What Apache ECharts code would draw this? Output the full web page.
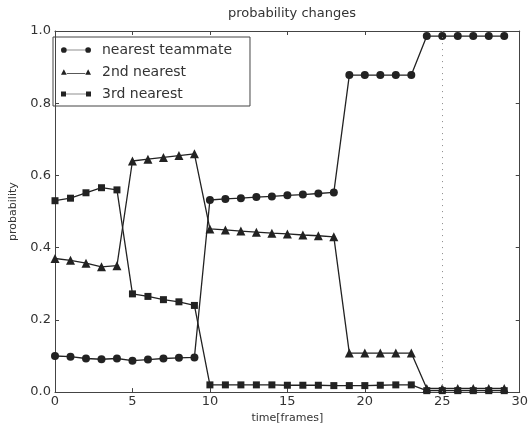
<!DOCTYPE html>
<html lang="en">
<head>
    <meta charset="UTF-8">
    <script type="text/javascript" src="https://cdn.jsdelivr.net/npm/echarts@6/dist/echarts.min.js"></script>
    <style>
        html, body { margin: 0; padding: 0; background: #fff; }
    </style>
</head>
<body>
    <div id="ProbChart" style="width: 531px;height: 429px;"></div>
</body>

<script>
    // time steps 0..29
    var frames = [0,1,2,3,4,5,6,7,8,9,10,11,12,13,14,15,16,17,18,19,20,21,22,23,24,25,26,27,28,29];
    var nearestTeammate = [0.100,0.098,0.093,0.091,0.093,0.087,0.090,0.093,0.095,0.096,
                           0.532,0.535,0.537,0.540,0.542,0.545,0.547,0.550,0.553,0.878,
                           0.878,0.878,0.878,0.878,0.986,0.986,0.986,0.986,0.986,0.986];
    var secondNearest = [0.370,0.365,0.357,0.347,0.350,0.640,0.645,0.650,0.655,0.660,
                         0.452,0.449,0.446,0.443,0.440,0.438,0.435,0.433,0.430,0.108,
                         0.108,0.108,0.108,0.108,0.010,0.010,0.010,0.010,0.010,0.010];
    var thirdNearest = [0.530,0.537,0.552,0.566,0.560,0.272,0.265,0.256,0.250,0.240,
                        0.020,0.020,0.020,0.020,0.020,0.019,0.019,0.019,0.018,0.018,
                        0.018,0.019,0.020,0.020,0.004,0.004,0.004,0.004,0.004,0.004];
    var xTicks = [0,5,10,15,20,25,30];
    var yTicks = [0.0,0.2,0.4,0.6,0.8,1.0];
    var markFrame = 25;

    function pairs(ys) {
        var out = [];
        for (var i = 0; i < frames.length; i++) out.push([frames[i], ys[i]]);
        return out;
    }

    // legend icons: marker - line - marker, like matplotlib
    var iconCircle = 'path://M1,5a4,4 0 1,0 8,0a4,4 0 1,0 -8,0Z M9,4.5H35V5.5H9Z M35,5a4,4 0 1,0 8,0a4,4 0 1,0 -8,0Z';
    var iconTri = 'path://M1,9L5,1L9,9Z M9,6.5H35V7.5H9Z M35,9L39,1L43,9Z';
    var iconRect = 'path://M1,1.5H8V8.5H1Z M8,4.5H36V5.5H8Z M36,1.5H43V8.5H36Z';

    var ink = '#222';
    var textCol = '#333';

    var chart = echarts.init(document.getElementById("ProbChart"));

    function axisBase(extra) {
        var a = {
            type: 'value',
            axisLine: { show: true, onZero: false, lineStyle: { color: '#444', width: 1 } },
            axisTick: { show: true, inside: true, length: 4, lineStyle: { color: '#444' } },
            splitLine: { show: false },
            axisLabel: { color: textCol, fontFamily: 'DejaVu Sans', fontSize: 13 }
        };
        for (var k in extra) a[k] = extra[k];
        return a;
    }

    var lineSeries = function (name, ys, symbol, size) {
        return {
            name: name,
            type: 'line',
            data: pairs(ys),
            symbol: symbol,
            symbolSize: size,
            showAllSymbol: true,
            itemStyle: { color: ink },
            lineStyle: { color: ink, width: 1.3 },
            emphasis: { disabled: true },
            z: 3
        };
    };

    var s1 = lineSeries('nearest teammate', nearestTeammate, 'circle', 8);
    var s2 = lineSeries('2nd nearest', secondNearest, 'triangle', 9);
    var s3 = lineSeries('3rd nearest', thirdNearest, 'rect', 7);
    s1.markLine = {
        silent: true,
        symbol: 'none',
        label: { show: false },
        lineStyle: { color: '#888', type: [1, 5], width: 1 },
        data: [{ xAxis: markFrame }]
    };

    chart.setOption({
        animation: false,
        backgroundColor: '#fff',
        title: {
            text: 'probability changes',
            left: 287, top: 2, textAlign: 'center',
            textStyle: { color: textCol, fontFamily: 'DejaVu Sans', fontSize: 13, fontWeight: 'normal' }
        },
        grid: { left: 47, right: 7, top: 31, bottom: 31, containLabel: false },
        legend: {
            left: 53, top: 37,
            orient: 'vertical',
            itemGap: 8,
            itemWidth: 30, itemHeight: 9,
            padding: [6, 18, 5, 8],
            borderColor: '#444', borderWidth: 1,
            textStyle: { color: textCol, fontFamily: 'DejaVu Sans', fontSize: 14, padding: [0, 0, 0, 6] },
            data: [
                { name: 'nearest teammate', icon: iconCircle },
                { name: '2nd nearest', icon: iconTri },
                { name: '3rd nearest', icon: iconRect }
            ]
        },
        xAxis: [
            axisBase({
                min: xTicks[0], max: xTicks[xTicks.length - 1], interval: 5,
                name: 'time[frames]', nameLocation: 'middle', nameGap: 15,
                nameTextStyle: { color: textCol, fontFamily: 'DejaVu Sans', fontSize: 11 },
                axisLabel: { color: textCol, fontFamily: 'DejaVu Sans', fontSize: 13, margin: 3 }
            }),
            axisBase({
                position: 'top', min: 0, max: 30, interval: 5,
                axisLabel: { show: false }
            })
        ],
        yAxis: [
            axisBase({
                min: yTicks[0], max: yTicks[yTicks.length - 1], interval: 0.2,
                name: 'probability', nameLocation: 'middle', nameGap: 36,
                nameTextStyle: { color: textCol, fontFamily: 'DejaVu Sans', fontSize: 11 },
                axisLabel: {
                    color: textCol, fontFamily: 'DejaVu Sans', fontSize: 13, margin: 4,
                    formatter: function (v) { return v.toFixed(1); }
                }
            }),
            axisBase({
                position: 'right', min: 0, max: 1, interval: 0.2,
                axisLabel: { show: false }
            })
        ],
        series: [s1, s2, s3]
    });
</script>
</html>
